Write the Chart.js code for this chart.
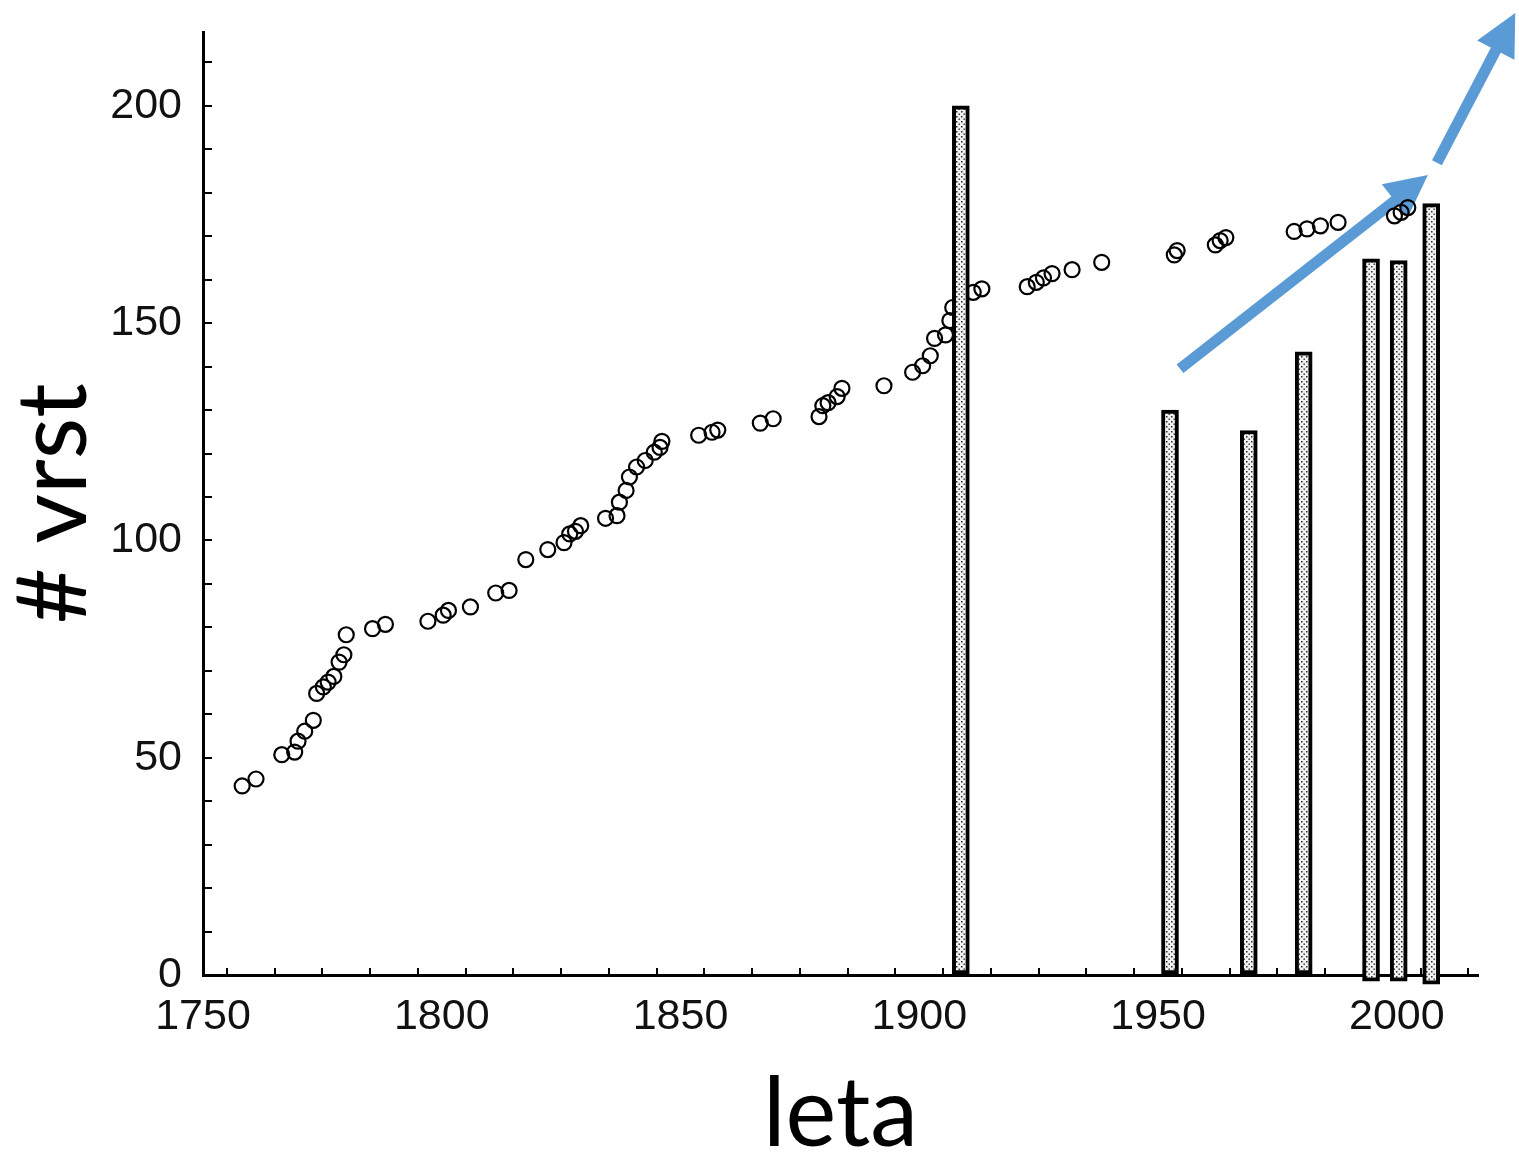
<!DOCTYPE html>
<html>
<head>
<meta charset="utf-8">
<title># vrst / leta</title>
<script src="https://cdn.jsdelivr.net/npm/chart.js@4.4.1/dist/chart.umd.min.js"></script>
<style>
  html, body { margin: 0; padding: 0; background: #fff; }
  canvas { display: block; }
</style>
</head>
<body>
<canvas id="grafVrst" width="1519" height="1160"></canvas>
<script>
// stevilo vrst po letih (krogci)
const leta = [
  1758.2, 1761.1, 1766.5, 1769.2, 1769.9, 1771.3, 1773.1, 1773.8, 1775.2, 1776.2,
  1777.4, 1778.5, 1779.5, 1780.0, 1785.5, 1788.2, 1797.1, 1800.3, 1801.4, 1806.0,
  1811.3, 1814.1, 1817.6, 1822.2, 1825.6, 1826.8, 1828.0, 1829.1, 1834.3, 1836.7,
  1837.2, 1838.6, 1839.3, 1840.8, 1842.6, 1844.5, 1845.7, 1846.1, 1853.8, 1856.6,
  1857.8, 1866.7, 1869.4, 1879.0, 1879.8, 1880.9, 1882.8, 1883.8, 1892.6, 1898.6,
  1900.7, 1902.3, 1903.2, 1905.5, 1906.4, 1907.0, 1911.3, 1913.1, 1922.6, 1924.5,
  1926.0, 1927.8, 1932.0, 1938.2, 1953.4, 1954.0, 1962.0, 1963.0, 1964.2, 1978.5,
  1981.2, 1984.0, 1987.7, 1999.5, 2000.9, 2002.3
];
const vrste = [
  43.5, 45.1, 50.7, 51.3, 53.8, 56.1, 58.6, 64.8, 66.3, 67.4,
  68.7, 72.0, 73.7, 78.3, 79.7, 80.7, 81.4, 82.8, 83.9, 84.7,
  87.9, 88.5, 95.6, 97.9, 99.5, 101.5, 102.1, 103.4, 105.1, 105.7,
  108.8, 111.5, 114.6, 116.9, 118.4, 120.3, 121.4, 122.8, 124.2, 124.9,
  125.4, 127.0, 128.0, 128.5, 131.0, 131.7, 133.1, 135.0, 135.6, 138.7,
  140.2, 142.5, 146.5, 147.3, 150.6, 153.6, 157.1, 157.9, 158.4, 159.4,
  160.4, 161.4, 162.3, 164.0, 165.7, 166.7, 168.0, 169.0, 169.7, 171.1,
  171.7, 172.4, 173.2, 174.7, 175.5, 176.6
];

// stolpci
const stolpciLeta = [1908.7, 1952.5, 1969.0, 1980.5, 1994.6, 2000.4, 2007.2];
const stolpciVrh = [200, 130, 125.3, 143.4, 164.8, 164.4, 177.5];
const stolpciDno = [0, 0, 0, 0, -1.4, -1.4, -2.1];

// puscici trenda: [leto zacetek, vrste zacetek, leto konec, vrste konec]
const puscice = [
  [1954.6, 139.5, 2006.5, 184.1],
  [2008.4, 186.9, 2024.8, 221.4]
];

// oznake osi
const oznakeX = [1750, 1800, 1850, 1900, 1950, 2000];
const oznakeY = [0, 50, 100, 150, 200];

const canvas = document.getElementById('grafVrst');
const ctx = canvas.getContext('2d');

// pikcasto polnilo za stolpce
function pikcastoPolnilo() {
  const c = document.createElement('canvas');
  c.width = 5;
  c.height = 5;
  const g = c.getContext('2d');
  g.fillStyle = '#f2f2f2';
  g.fillRect(0, 0, 5, 5);
  g.fillStyle = '#2a2a2a';
  g.fillRect(1, 1, 1.5, 1.5);
  g.fillRect(3.5, 3.5, 1.4, 1.4);
  return ctx.createPattern(c, 'repeat');
}

let tockeKrogci = leta.map((l, i) => ({x: l, y: vrste[i]}));
let tockeStolpci = stolpciLeta.map((l, i) => ({x: l, y: [stolpciDno[i], stolpciVrh[i]]}));

// risanje puscic
const risiPuscice = {
  id: 'risiPuscice',
  beforeDatasetsDraw(chart) {
    const c = chart.ctx;
    const sx = chart.scales.x;
    const sy = chart.scales.y;
    c.save();
    c.strokeStyle = '#5b9bd5';
    c.fillStyle = '#5b9bd5';
    c.lineWidth = 11;
    c.lineCap = 'butt';
    puscice.forEach(p => {
      let x0 = sx.getPixelForValue(p[0]);
      let y0 = sy.getPixelForValue(p[1]);
      let x1 = sx.getPixelForValue(p[2]);
      let y1 = sy.getPixelForValue(p[3]);
      let kot = Math.atan2(y1 - y0, x1 - x0);
      let dolzina = 42;
      let sirina = 21;
      let bx = x1 - Math.cos(kot) * dolzina;
      let by = y1 - Math.sin(kot) * dolzina;
      c.beginPath();
      c.moveTo(x0, y0);
      c.lineTo(bx + Math.cos(kot) * 2, by + Math.sin(kot) * 2);
      c.stroke();
      c.beginPath();
      c.moveTo(x1, y1);
      c.lineTo(bx + Math.sin(kot) * sirina, by - Math.cos(kot) * sirina);
      c.lineTo(bx - Math.sin(kot) * sirina, by + Math.cos(kot) * sirina);
      c.closePath();
      c.fill();
    });
    c.restore();
  }
};

const pisavaOznak = {family: "'Liberation Sans', Arial, sans-serif", size: 43};
const pisavaNaslova = {family: "Lato, 'Open Sans', sans-serif", size: 96, lineHeight: 1.0};

const grafVrst = new Chart(ctx, {
  type: 'scatter',
  data: {
    datasets: [
      {
        type: 'bar',
        label: 'stolpci',
        data: tockeStolpci,
        backgroundColor: pikcastoPolnilo(),
        borderColor: '#000',
        borderWidth: 4,
        borderSkipped: false,
        barThickness: 17,
        clip: false,
        order: 0
      },
      {
        type: 'scatter',
        label: 'vrste',
        data: tockeKrogci,
        pointRadius: 7.5,
        pointHoverRadius: 7.5,
        pointBorderWidth: 2.2,
        pointBorderColor: '#000',
        pointBackgroundColor: 'rgba(0,0,0,0)',
        order: 1
      }
    ]
  },
  options: {
    responsive: false,
    animation: false,
    events: [],
    layout: {padding: {top: 32, right: 41, left: 0, bottom: 0}},
    plugins: {
      legend: {display: false},
      tooltip: {enabled: false}
    },
    scales: {
      x: {
        type: 'linear',
        min: 1750,
        max: 2017,
        offset: false,
        border: {display: true, color: '#000', width: 3},
        grid: {drawOnChartArea: false, drawTicks: true, tickLength: -7, color: '#000', lineWidth: 2},
        ticks: {
          stepSize: 10,
          includeBounds: false,
          autoSkip: false,
          maxRotation: 0,
          padding: 23,
          color: '#111',
          font: pisavaOznak,
          callback: v => oznakeX.includes(v) ? String(v) : ''
        },
        title: {display: true, text: 'leta', color: '#000', font: pisavaNaslova, padding: {top: 0, bottom: -3}},
        afterFit: s => { s.height = 185; s.paddingLeft = 0; s.paddingRight = 0; }
      },
      y: {
        type: 'linear',
        min: 0,
        max: 217,
        border: {display: true, color: '#000', width: 3},
        grid: {drawOnChartArea: false, drawTicks: true, tickLength: -9, color: '#000', lineWidth: 2},
        ticks: {
          stepSize: 10,
          includeBounds: false,
          autoSkip: false,
          padding: 30,
          color: '#111',
          font: pisavaOznak,
          callback: v => oznakeY.includes(v) ? String(v) : ''
        },
        title: {display: true, text: '# vrst', color: '#000', font: pisavaNaslova, padding: {top: 7, bottom: 0}},
        afterFit: s => { s.width = 203; s.paddingTop = 0; s.paddingBottom = 0; }
      }
    }
  },
  plugins: [risiPuscice]
});
</script>
</body>
</html>
